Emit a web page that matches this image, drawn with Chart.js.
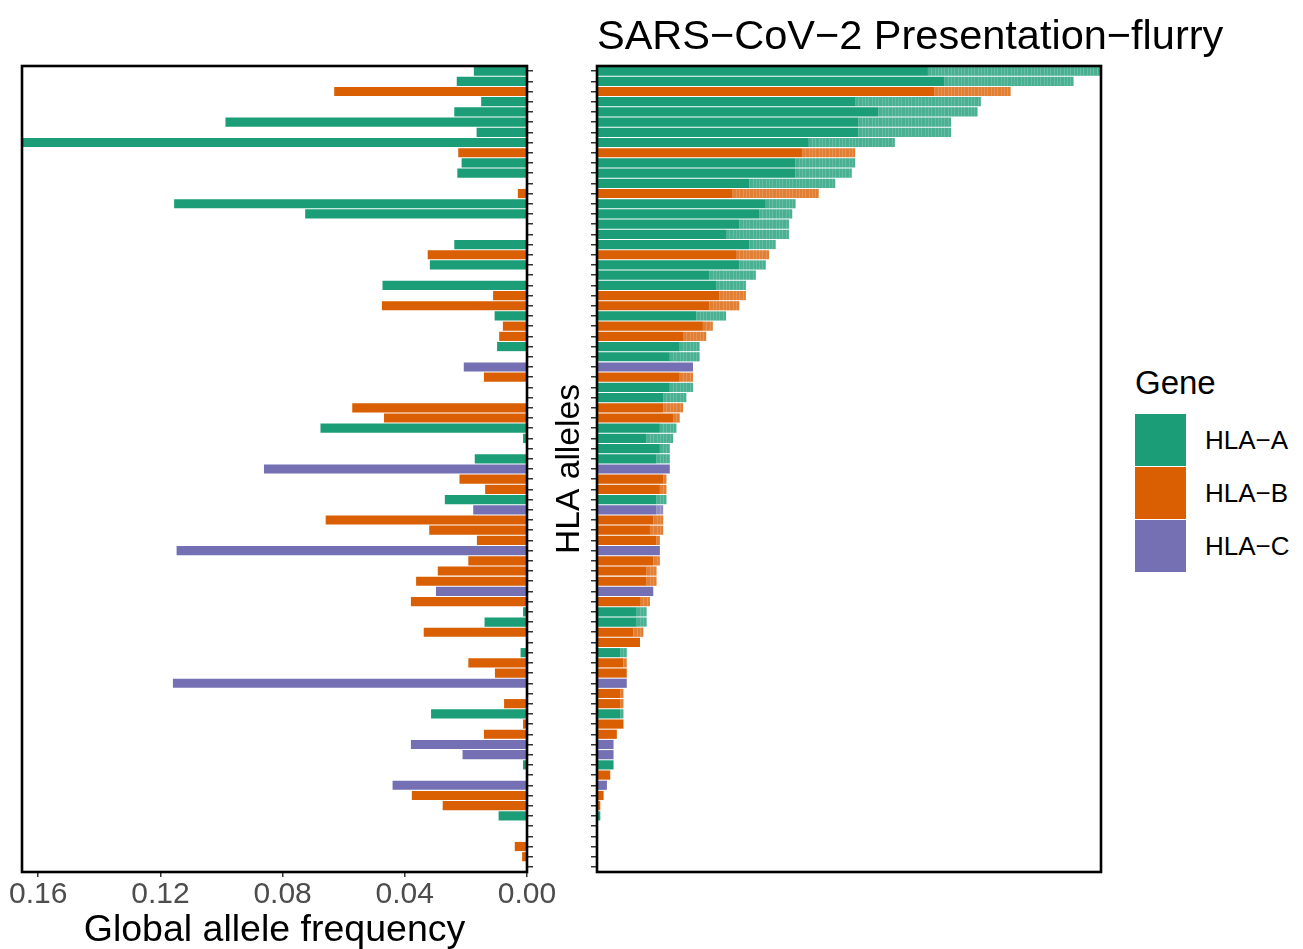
<!DOCTYPE html>
<html>
<head>
<meta charset="utf-8">
<script src="https://cdn.jsdelivr.net/npm/chart.js@4.4.1/dist/chart.umd.min.js"></script>
<style>
  html, body { margin: 0; padding: 0; background: #fff; }
  body { width: 1303px; height: 949px; position: relative; overflow: hidden;
         font-family: "Liberation Sans", Arial, Helvetica, sans-serif; color: #000; }
  #freqBox { position: absolute; left: 0; top: 0; width: 560px; height: 949px; }
  #presBox { position: absolute; left: 545px; top: 0; width: 565px; height: 949px; }
  #title { position: absolute; left: 597px; top: 14px; font-size: 41.5px; line-height: 41.5px; white-space: nowrap; }
  #legendTitle { position: absolute; left: 1135px; top: 366px; font-size: 33px; line-height: 33px; }
  .key { position: absolute; left: 1135px; width: 51px; height: 52px; }
  .keyLabel { position: absolute; left: 1205px; font-size: 26px; line-height: 26px; white-space: nowrap; }
</style>
</head>
<body>
<div id="freqBox"><canvas id="freq" width="560" height="949"></canvas></div>
<div id="presBox"><canvas id="pres" width="565" height="949"></canvas></div>
<div id="title">SARS−CoV−2 Presentation−flurry</div>
<div id="legendTitle">Gene</div>
<div id="legend"></div>
<script>
// ---- data: one entry per HLA allele, ordered by presentation count ----
const genes = [
  'A','A','B','A','A','A','A','A','B','A',
  'A','A','B','A','A','A','A','A','B','A',
  'A','A','B','B','A','B','B','A','A','C',
  'B','A','A','B','B','A','A','A','A','C',
  'B','B','A','C','B','B','B','C','B','B',
  'B','C','B','A','A','B','B','A','B','B',
  'C','B','B','A','B','B','C','C','A','B',
  'C','B','B','A',null,null,'B','B',null
];

// global allele frequency (left panel)
const alleleFreq = [
  0.0174,0.0230,0.0631,0.0150,0.0238,0.0987,0.0165,0.1653,0.0225,0.0214,
  0.0228,0,0.0030,0.1155,0.0726,0,0,0.0238,0.0325,0.0318,
  0,0.0473,0.0111,0.0475,0.0106,0.0079,0.0091,0.0098,0,0.0207,
  0.0141,0,0,0.0572,0.0468,0.0676,0.0013,0,0.0171,0.0861,
  0.0221,0.0137,0.0269,0.0176,0.0659,0.0320,0.0164,0.1147,0.0192,0.0292,
  0.0363,0.0298,0.0380,0.0013,0.0139,0.0338,0,0.0021,0.0192,0.0105,
  0.1159,0,0.0075,0.0314,0.0013,0.0141,0.0380,0.0211,0.0013,0,
  0.0440,0.0377,0.0276,0.0093,0,0,0.0040,0.0016,0
];

// presented peptides: strong binders (solid) and all binders (total)
const presStrong = [
  100,105,102,78,85,79,79,64,62,60,
  60,46,41,51,49,43,39,46,42,43,
  34,36,37,34,30,32,26,25,22,29,
  25,22,20,20,23,19,15,19,18,22,
  20,19,18,18,17,16,18,19,17,15,
  15,17,13,12,12,11,13,7,8,9,
  9,7,7,7,8,6,5,5,5,4,
  3,2,1,1,0,0,0,0,0
];
const presTotal = [
  152,144,125,116,115,107,107,90,78,78,
  77,72,67,60,59,58,58,54,52,51,
  48,45,45,43,39,35,33,31,31,29,
  29,29,27,26,25,24,23,22,22,22,
  21,21,21,20,20,20,19,19,19,18,
  18,17,16,15,15,14,13,9,9,9,
  9,8,8,8,8,6,5,5,5,4,
  3,2,1,1,0,0,0,0,0
];

const rowIds = genes.map((g, i) => 'allele_' + (i + 1));
const freqTickValues = [0, 0.04, 0.08, 0.12, 0.16];
const freqMax = 0.1653;
const presMax = 152.3;

const geneNames = ['HLA−A', 'HLA−B', 'HLA−C'];
const geneKeys = ['A', 'B', 'C'];
const geneRGB = { A: [27, 158, 119], B: [217, 95, 2], C: [117, 112, 179] };

// ---- helpers ----
const FONT = '"Liberation Sans", Arial, Helvetica, sans-serif';
const solidColor = g => g ? `rgb(${geneRGB[g].join(',')})` : 'rgba(0,0,0,0)';
const lightColor = g => g ? `rgba(${geneRGB[g].join(',')},0.8)` : 'rgba(0,0,0,0)';
const presExtra = presTotal.map((t, i) => t - presStrong[i]);

// black frame around each panel
const panelFrame = {
  id: 'panelFrame',
  afterDraw(chart) {
    const { ctx, chartArea: a } = chart;
    ctx.save();
    ctx.strokeStyle = '#000';
    ctx.lineWidth = 2.6;
    ctx.strokeRect(a.left, a.top, a.right - a.left, a.bottom - a.top);
    ctx.restore();
  }
};

// faint white dividers between single peptides in the lighter segment
const unitDividers = {
  id: 'unitDividers',
  afterDatasetsDraw(chart) {
    const { ctx } = chart;
    const xs = chart.scales.x;
    const meta = chart.getDatasetMeta(1);
    ctx.save();
    ctx.strokeStyle = 'rgba(255,255,255,0.16)';
    ctx.lineWidth = 1;
    meta.data.forEach((bar, i) => {
      const extra = presExtra[i];
      if (extra <= 1) return;
      const { y, height } = bar.getProps(['y', 'height'], true);
      ctx.beginPath();
      for (let k = 1; k < extra; k++) {
        const x = Math.round(xs.getPixelForValue(presStrong[i] + k)) + 0.5;
        ctx.moveTo(x, y - height / 2);
        ctx.lineTo(x, y + height / 2);
      }
      ctx.stroke();
    });
    ctx.restore();
  }
};

const tickGrid = len => ({
  display: true, drawOnChartArea: false, drawTicks: true,
  tickLength: len, offset: false, color: '#333333', lineWidth: 1.5
});

// ---- left panel: global allele frequency ----
new Chart(document.getElementById('freq'), {
  type: 'bar',
  data: {
    labels: rowIds,
    datasets: [{
      data: alleleFreq,
      backgroundColor: genes.map(solidColor),
      borderWidth: 0,
      barPercentage: 0.9,
      categoryPercentage: 1
    }]
  },
  options: {
    indexAxis: 'y',
    responsive: false,
    animation: false,
    events: [],
    layout: { padding: { left: 22, top: 66, right: 27, bottom: 0 } },
    plugins: { legend: { display: false }, tooltip: { enabled: false } },
    scales: {
      x: {
        type: 'linear', reverse: true, min: 0, max: freqMax, position: 'bottom',
        afterBuildTicks: s => { s.ticks = freqTickValues.map(v => ({ value: v })); },
        afterFit: s => { s.height = 77; },
        ticks: {
          callback: v => Number(v).toFixed(2),
          font: { family: FONT, size: 30, lineHeight: 1 },
          color: '#4D4D4D', padding: 3, maxRotation: 0, autoSkip: false
        },
        grid: tickGrid(5),
        border: { display: false },
        title: {
          display: true, text: 'Global allele frequency', color: '#000',
          font: { family: FONT, size: 37.5, lineHeight: 1 },
          padding: { top: 0, bottom: 0 }
        }
      },
      y: {
        position: 'right', offset: true,
        afterFit: s => { s.width = 6; },
        ticks: { display: false },
        grid: tickGrid(6),
        border: { display: false }
      }
    }
  },
  plugins: [panelFrame]
});

// ---- right panel: presentation counts ----
new Chart(document.getElementById('pres'), {
  type: 'bar',
  data: {
    labels: rowIds,
    datasets: [
      { label: 'strong', data: presStrong, backgroundColor: genes.map(solidColor), stack: 'p' },
      { label: 'all', data: presExtra, backgroundColor: genes.map(lightColor), stack: 'p' }
    ]
  },
  options: {
    indexAxis: 'y',
    responsive: false,
    animation: false,
    events: [],
    datasets: { bar: { barPercentage: 0.9, categoryPercentage: 1, borderWidth: 0 } },
    layout: { padding: { left: 0, top: 66, right: 9, bottom: 77 } },
    plugins: { legend: { display: false }, tooltip: { enabled: false } },
    scales: {
      x: { display: false, stacked: true, min: 0, max: presMax },
      y: {
        stacked: true, position: 'left', offset: true,
        afterFit: s => { s.width = 52; },
        ticks: { display: false },
        grid: tickGrid(6),
        border: { display: false },
        title: {
          display: true, text: 'HLA alleles', color: '#000',
          font: { family: FONT, size: 33.6, lineHeight: 1 },
          padding: { top: 8, bottom: 0 }
        }
      }
    }
  },
  plugins: [unitDividers, panelFrame]
});

// ---- legend ----
const legend = document.getElementById('legend');
geneKeys.forEach((g, i) => {
  const key = document.createElement('div');
  key.className = 'key';
  key.style.top = (414 + i * 53) + 'px';
  key.style.background = solidColor(g);
  legend.appendChild(key);
  const lab = document.createElement('div');
  lab.className = 'keyLabel';
  lab.style.top = (427 + i * 53) + 'px';
  lab.textContent = geneNames[i];
  legend.appendChild(lab);
});
</script>
</body>
</html>
